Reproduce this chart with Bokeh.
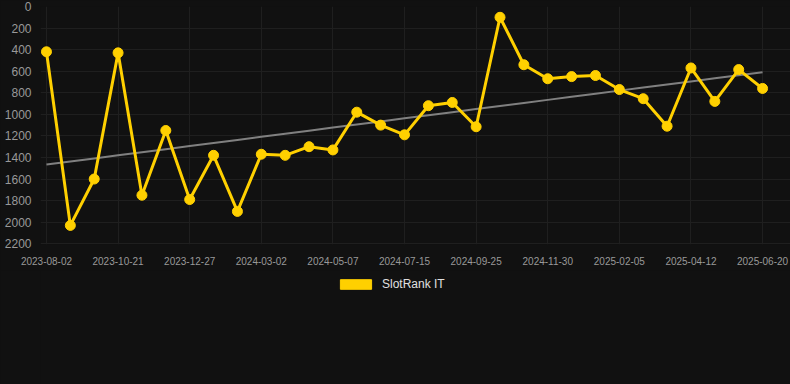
import numpy as np
from bokeh.plotting import figure
from bokeh.layouts import column
from bokeh.models import Range1d, FixedTicker, Legend, LegendItem, ColumnDataSource
from bokeh.embed import file_html
from bokeh.resources import INLINE

dates = [
    "2023-08-02", "2023-08-28", "2023-09-24", "2023-10-21", "2023-11-13", "2023-12-05",
    "2023-12-27", "2024-01-18", "2024-02-09", "2024-03-02", "2024-03-24", "2024-04-15",
    "2024-05-07", "2024-05-30", "2024-06-22", "2024-07-15", "2024-08-08", "2024-09-01",
    "2024-09-25", "2024-10-17", "2024-11-08", "2024-11-30", "2024-12-22", "2025-01-13",
    "2025-02-05", "2025-02-27", "2025-03-21", "2025-04-12", "2025-05-04", "2025-05-27",
    "2025-06-20",
]
rank = [
    420, 2030, 1600, 430, 1750, 1150, 1790, 1380, 1900, 1370, 1380, 1300,
    1330, 980, 1100, 1190, 920, 890, 1115, 100, 540, 670, 650, 640,
    770, 855, 1110, 570, 880, 585, 760,
]
y_ticks = [0, 200, 400, 600, 800, 1000, 1200, 1400, 1600, 1800, 2000, 2200]
series_name = "SlotRank IT"

GOLD = "#FFD000"
BG = "#111111"
bg_style = {"background-color": BG}

idx = np.arange(len(dates))
slope, intercept = np.polyfit(idx, np.array(rank, dtype=float), 1)
trend = slope * idx + intercept

p = figure(width=790, height=270, output_backend="svg", toolbar_location=None,
           x_range=Range1d(-0.25, 31.17), y_range=Range1d(2207, 0),
           min_border_left=40, min_border_right=0, min_border_top=6, min_border_bottom=26,
           styles=bg_style)
p.background_fill_color = BG
p.border_fill_color = BG
p.outline_line_color = None

src = ColumnDataSource(dict(x=idx, y=rank, t=trend))
p.line("x", "t", source=src, line_color="#808080", line_width=2)
p.line("x", "y", source=src, line_color=GOLD, line_width=3)
p.scatter("x", "y", source=src, size=10, fill_color=GOLD, line_color=GOLD)

tick_idx = list(range(0, len(dates), 3))
p.xaxis.ticker = FixedTicker(ticks=tick_idx)
p.xaxis.major_label_overrides = {i: dates[i] for i in tick_idx}
p.yaxis.ticker = FixedTicker(ticks=y_ticks)

for ax in (p.xaxis, p.yaxis):
    ax.axis_line_color = None
    ax.major_tick_line_color = None
    ax.minor_tick_line_color = None
    ax.major_label_text_color = "#999999"
    ax.major_label_text_font = "Liberation Sans"
p.xaxis.major_label_text_font_size = "10px"
p.yaxis.major_label_text_font_size = "12px"
p.xaxis.major_label_standoff = 6
p.yaxis.major_label_standoff = 3

p.xgrid.ticker = FixedTicker(ticks=tick_idx)
p.ygrid.ticker = FixedTicker(ticks=y_ticks[1:])
p.xgrid.grid_line_color = "#1f1f1f"
p.ygrid.grid_line_color = "#1f1f1f"

# legend strip below the chart (its frame is aligned with the chart frame, left = 40px)
lg = figure(width=790, height=114, output_backend="svg", toolbar_location=None,
            x_range=Range1d(0, 1), y_range=Range1d(0, 1),
            x_axis_location=None, y_axis_location=None,
            min_border_left=0, min_border_right=0, min_border_top=0, min_border_bottom=0,
            styles=bg_style)
lg.background_fill_color = BG
lg.border_fill_color = BG
lg.outline_line_color = None
lg.grid.grid_line_color = None
legend_src = ColumnDataSource(dict(l=[np.nan], r=[np.nan], t=[np.nan], b=[np.nan]))
legend_r = lg.quad(left="l", right="r", top="t", bottom="b", source=legend_src,
                   fill_color=GOLD, line_color=GOLD)
legend = Legend(items=[LegendItem(label=series_name, renderers=[legend_r])],
                location=(296, 93), orientation="horizontal",
                background_fill_alpha=0, border_line_color=None,
                glyph_width=39, glyph_height=12, label_standoff=7,
                label_text_color="#e0e0e0", label_text_font_size="12px",
                label_text_font="Liberation Sans", label_height=12,
                padding=0, margin=0, spacing=0)
lg.add_layout(legend)

layout = column(p, lg, spacing=0, styles=bg_style)
open("out.html", "w").write(file_html(layout, INLINE))
